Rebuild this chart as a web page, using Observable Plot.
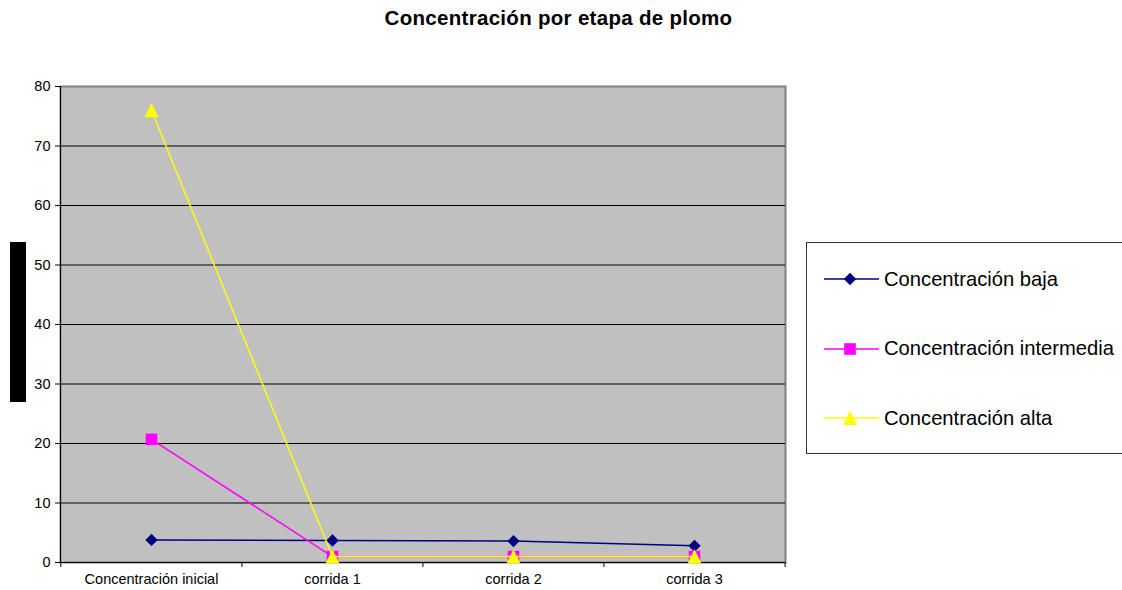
<!DOCTYPE html>
<html>
<head>
<meta charset="utf-8">
<script src="https://cdn.jsdelivr.net/npm/d3@7"></script>
<script src="https://cdn.jsdelivr.net/npm/@observablehq/plot@0.6"></script>
<style>
  body { margin: 0; background: #fff; font-family: "Liberation Sans", Arial, sans-serif; }
  #wrap { position: relative; width: 1122px; height: 590px; overflow: hidden; }
  #title { position: absolute; top: 6px; left: 0; width: 1117px; text-align: center;
           font-weight: bold; font-size: 20.5px; letter-spacing: 0.3px; color: #000; line-height: 24px; }
  #ylabel { position: absolute; left: 10px; top: 242px; width: 16px; height: 160px;
            background: #000; color: #000; font-size: 12px; overflow: hidden;
            writing-mode: vertical-rl; transform: rotate(180deg); text-align: center; }
  #legend { position: absolute; left: 806px; top: 242px; width: 330px; height: 210px;
            border: 1px solid #333; background: #fff; }
  .item { position: absolute; left: 0; height: 24px; display: flex; align-items: center; }
  .item span { font-size: 20.2px; color: #000; white-space: nowrap; margin-left: 0; }
  #chart { position: absolute; left: 0; top: 0; }
</style>
</head>
<body>
<div id="wrap">
  <div id="chart"></div>
  <div id="title">Concentración por etapa de plomo</div>
  <div id="ylabel">ppm</div>
  <div id="legend"></div>
</div>
<script>
// Stages along the x axis
const stages = ["Concentración inicial", "corrida 1", "corrida 2", "corrida 3"];

// Lead concentration per stage, one array per series
const baja = [3.8, 3.7, 3.6, 2.8];
const intermedia = [20.7, 1.0, 1.0, 1.0];
const alta = [76, 1.0, 1.0, 1.0];

const seriesNames = ["Concentración baja", "Concentración intermedia", "Concentración alta"];
const seriesColors = ["#000080", "#ff00ff", "#ffff00"];

// Marker shapes, centred on their bounding box
function polygon(points) {
  return {draw(context) {
    context.moveTo(points[0][0], points[0][1]);
    for (const [px, py] of points.slice(1)) context.lineTo(px, py);
    context.closePath();
  }};
}
const diamondMarker = polygon([[0, -6.2], [6.2, 0], [0, 6.2], [-6.2, 0]]);
const squareMarker = polygon([[-5.8, -5.8], [5.8, -5.8], [5.8, 5.8], [-5.8, 5.8]]);
const triangleMarker = polygon([[0, -7.2], [7, 7], [-7, 7]]);
const seriesMarkers = [diamondMarker, squareMarker, triangleMarker];

const yTicks = [0, 10, 20, 30, 40, 50, 60, 70, 80];
const gridValues = [10, 20, 30, 40, 50, 60, 70];

const W = 1122, H = 590;
const mL = 60, mR = 337, mT = 86, mB = 28;
const step = (W - mL - mR) / stages.length;

const seriesValues = [baja, intermedia, alta];
const rows = seriesValues.map((vals, s) =>
  vals.map((v, i) => ({stage: stages[i], value: v, series: seriesNames[s]})));

const marks = [
  Plot.frame({fill: "#c0c0c0", stroke: "#808080", strokeWidth: 2}),
  Plot.ruleY(gridValues, {stroke: "#000", strokeWidth: 1}),
  Plot.frame({anchor: "left", stroke: "#000", strokeWidth: 1}),
  Plot.ruleY([0], {stroke: "#000", strokeWidth: 1.2}),
  // category boundary ticks below the x axis
  Plot.ruleX(stages, {x: d => d, y1: 0, y2: 0, dx: -step / 2, insetBottom: -5, stroke: "#000"}),
  Plot.ruleX(stages.slice(-1), {x: d => d, y1: 0, y2: 0, dx: step / 2, insetBottom: -5, stroke: "#000"}),
  Plot.axisY({ticks: yTicks, tickSize: 5, tickPadding: 5, tickFormat: d => String(d), fontSize: 14.5, color: "#000"}),
  Plot.axisX({tickSize: 0, tickPadding: 11, fontSize: 14.5, color: "#000"})
];

rows.forEach((data, s) => {
  marks.push(Plot.line(data, {x: "stage", y: "value", stroke: seriesColors[s], strokeWidth: 1.5}));
  marks.push(Plot.dot(data, {x: "stage", y: "value", symbol: seriesMarkers[s], r: 6,
                             fill: seriesColors[s], stroke: "none"}));
});

const chart = Plot.plot({
  width: W,
  height: H,
  marginLeft: mL,
  marginRight: mR,
  marginTop: mT,
  marginBottom: mB,
  style: {fontFamily: "'Liberation Sans', Arial, sans-serif", fontSize: "14.5px", background: "transparent", color: "#000"},
  x: {type: "point", domain: stages, padding: 0.5, label: null},
  y: {domain: [0, 80], label: null},
  marks
});
document.getElementById("chart").appendChild(chart);

// Legend entries: line + marker swatch followed by the series name
const legend = document.getElementById("legend");
seriesNames.forEach((name, s) => {
  const item = document.createElement("div");
  item.className = "item";
  item.style.top = (24 + 69.5 * s) + "px";
  const path = d3.path();
  seriesMarkers[s].draw(path);
  item.innerHTML =
    `<svg width="77" height="24" viewBox="0 0 77 24">` +
    `<line x1="17" x2="72" y1="12" y2="12" stroke="${seriesColors[s]}" stroke-width="1.5"/>` +
    `<path d="${path}" transform="translate(43,12)" fill="${seriesColors[s]}"/></svg>` +
    `<span>${name}</span>`;
  legend.appendChild(item);
});
</script>
</body>
</html>
